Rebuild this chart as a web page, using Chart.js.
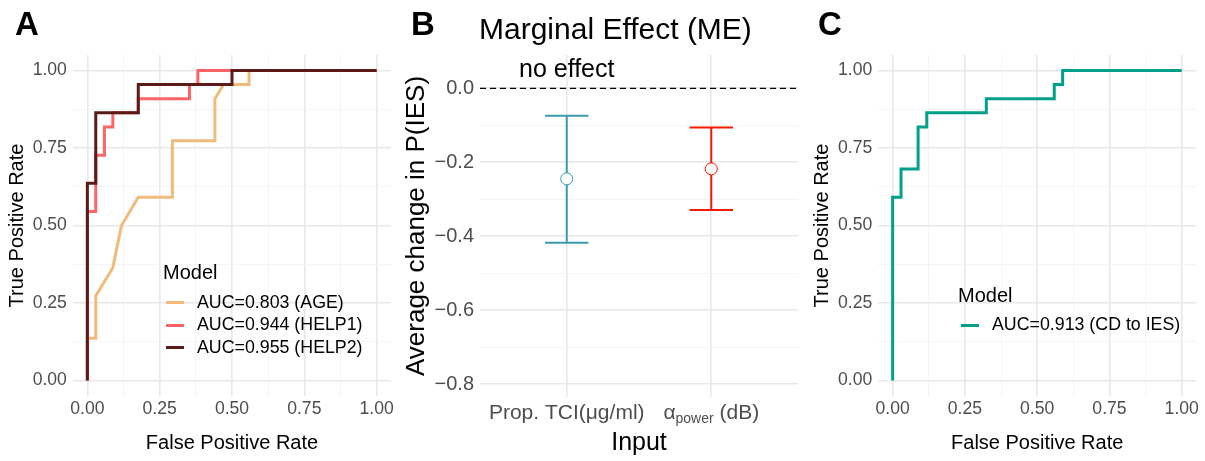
<!DOCTYPE html>
<html>
<head>
<meta charset="utf-8">
<script src="https://cdn.jsdelivr.net/npm/chart.js@4.4.0/dist/chart.umd.min.js"></script>
<style>
    body { margin: 0; background: #fff; font-family: "Liberation Sans", Arial, sans-serif; }
    #quadro { position: relative; width: 1205px; height: 461px; overflow: hidden; }
    .painel { position: absolute; top: 0; height: 461px; }
    .letra { position: absolute; top: 6.5px; font-size: 33px; font-weight: bold; line-height: 1; color: #000; }
    .titulo { position: absolute; font-size: 30px; line-height: 1; color: #000; }
    .legenda { position: absolute; color: #000; }
    .legenda .nome { font-size: 20px; line-height: 1; margin-bottom: 9px; }
    .legenda .linha { display: flex; align-items: center; height: 22.5px; font-size: 17.8px; line-height: 1; white-space: nowrap; }
    .legenda .traco { width: 18px; height: 3px; margin-right: 13px; }
</style>
</head>
<body>
<div id="quadro">
    <div class="painel" style="left:0;width:400px"><canvas id="graficoA"></canvas></div>
    <div class="painel" style="left:400px;width:405px"><canvas id="graficoB"></canvas></div>
    <div class="painel" style="left:805px;width:400px"><canvas id="graficoC"></canvas></div>

    <div class="letra" style="left:15px">A</div>
    <div class="letra" style="left:411px">B</div>
    <div class="letra" style="left:818px">C</div>
    <div class="titulo" style="left:479px;top:14px">Marginal Effect (ME)</div>

    <div class="legenda" id="legendaA" style="left:163px;top:262.4px"></div>
    <div class="legenda" id="legendaC" style="left:958px;top:284.8px"></div>
</div>

<script>
// curvas ROC do painel A (taxa de falso positivo, taxa de verdadeiro positivo)
const ageFpr = [0, 0, 0.029, 0.029, 0.088, 0.118, 0.176, 0.294, 0.294, 0.441, 0.441, 0.471, 0.559, 0.559, 1];
const ageTpr = [0, 0.136, 0.136, 0.273, 0.364, 0.5, 0.591, 0.591, 0.773, 0.773, 0.909, 0.955, 0.955, 1, 1];
const help1Fpr = [0, 0, 0.029, 0.029, 0.059, 0.059, 0.088, 0.088, 0.176, 0.176, 0.353, 0.353, 0.382, 0.382, 1];
const help1Tpr = [0, 0.545, 0.545, 0.727, 0.727, 0.818, 0.818, 0.864, 0.864, 0.909, 0.909, 0.955, 0.955, 1, 1];
const help2Fpr = [0, 0, 0.029, 0.029, 0.176, 0.176, 0.5, 0.5, 1];
const help2Tpr = [0, 0.636, 0.636, 0.864, 0.864, 0.955, 0.955, 1, 1];
const modelosA = ["AUC=0.803 (AGE)", "AUC=0.944 (HELP1)", "AUC=0.955 (HELP2)"];

// curva ROC do painel C
const cdFpr = [0, 0, 0.029, 0.029, 0.088, 0.088, 0.118, 0.118, 0.324, 0.324, 0.559, 0.559, 0.588, 0.588, 1];
const cdTpr = [0, 0.591, 0.591, 0.682, 0.682, 0.818, 0.818, 0.864, 0.864, 0.909, 0.909, 0.955, 0.955, 1, 1];
const modelosC = ["AUC=0.913 (CD to IES)"];

// efeito marginal do painel B
const entradas = ["Prop. TCI(μg/ml)", "α_power (dB)"];
const efeitoMedio = [-0.245, -0.218];
const efeitoInferior = [-0.418, -0.329];
const efeitoSuperior = [-0.074, -0.106];
const linhaZero = 0;
const notaTexto = "no effect";
const notaX = 1;
const notaY = 0.05;

// marcas dos eixos
const rocTicks = [0, 0.25, 0.5, 0.75, 1];
const rocMenores = [0.125, 0.375, 0.625, 0.875];
const meTicks = [-0.8, -0.6, -0.4, -0.2, 0];
const meMenores = [-0.7, -0.5, -0.3, -0.1];

const fonte = '"Liberation Sans", Arial, sans-serif';
Chart.defaults.font.family = fonte;
Chart.defaults.animation = false;

const coresA = ["#F1BB7B", "#FD6467", "#5B1A18"];
const corC = "#00A08A";
const coresB = ["#3B9AB2", "#F21A00"];

function pontos(xs, ys) {
    return xs.map((x, i) => ({ x: x, y: ys[i] }));
}

function grade(maiores) {
    return {
        drawTicks: false,
        color: (c) => maiores.includes(c.tick.value) ? "#e8e8e8" : "#f3f3f3",
        lineWidth: (c) => maiores.includes(c.tick.value) ? 1.6 : 0.9
    };
}

function escalaRoc(horizontal, titulo, largura) {
    return {
        type: "linear",
        min: -0.05,
        max: 1.05,
        afterBuildTicks: (s) => {
            s.ticks = rocTicks.concat(rocMenores).sort((a, b) => a - b).map((v) => ({ value: v }));
        },
        afterFit: (s) => {
            if (horizontal) s.height = 65; else s.width = largura;
        },
        grid: grade(rocTicks),
        border: { display: false },
        ticks: {
            autoSkip: false,
            maxRotation: 0,
            padding: horizontal ? 3 : 6,
            color: "#4d4d4d",
            font: { size: 17.6 },
            callback: (v) => rocTicks.includes(v) ? v.toFixed(2) : ""
        },
        title: {
            display: true,
            text: titulo,
            color: "#000",
            font: { size: 20 },
            padding: horizontal ? { top: 0, bottom: 6 } : { top: 5, bottom: 0 }
        }
    };
}

function montarRoc(id, series, largura, direita) {
    new Chart(document.getElementById(id), {
        type: "line",
        data: {
            datasets: series.map((s) => ({
                label: s.nome,
                data: pontos(s.fpr, s.tpr),
                borderColor: s.cor,
                borderWidth: 3,
                pointRadius: 0,
                tension: 0,
                fill: false,
                order: s.ordem
            }))
        },
        options: {
            responsive: true,
            maintainAspectRatio: false,
            layout: { padding: { top: 55, right: direita, left: 0, bottom: 0 } },
            plugins: { legend: { display: false }, tooltip: { enabled: false } },
            scales: {
                x: escalaRoc(true, "False Positive Rate", largura),
                y: escalaRoc(false, "True Positive Rate", largura)
            }
        }
    });
}

function montarLegenda(id, nomes, cores) {
    const box = document.getElementById(id);
    let html = '<div class="nome">Model</div>';
    nomes.forEach((n, i) => {
        html += `<div class="linha"><span class="traco" style="background:${cores[i]};margin-left:3px"></span>${n}</div>`;
    });
    box.innerHTML = html;
}

// rotulos do eixo x do painel B, com subscrito onde tem "_"
const textosME = {
    id: "textosME",
    afterDraw(chart) {
        const { ctx, chartArea } = chart;
        const x = chart.scales.x;
        const y = chart.scales.y;
        ctx.save();
        ctx.fillStyle = "#000";
        ctx.font = "25px " + fonte;
        ctx.textAlign = "center";
        ctx.textBaseline = "middle";
        ctx.fillText(notaTexto, x.getPixelForValue(notaX), y.getPixelForValue(notaY));

        ctx.fillStyle = "#4d4d4d";
        ctx.textAlign = "left";
        ctx.textBaseline = "alphabetic";
        const base = chartArea.bottom + 22;
        entradas.forEach((rotulo, i) => {
            const partes = rotulo.split(/_(\w+)/).map((t, k) => ({ t: t, sub: k % 2 === 1 })).filter((p) => p.t);
            let total = 0;
            partes.forEach((p) => {
                ctx.font = (p.sub ? "14px " : "21px ") + fonte;
                p.w = ctx.measureText(p.t).width;
                total += p.w;
            });
            let px = x.getPixelForValue(i + 1) - total / 2;
            partes.forEach((p) => {
                ctx.font = (p.sub ? "14px " : "21px ") + fonte;
                ctx.fillText(p.t, px, p.sub ? base + 4 : base);
                px += p.w;
            });
        });
        ctx.restore();
    }
};

function montarEfeito() {
    const conjuntos = [];
    conjuntos.push({
        data: [{ x: 0.4, y: linhaZero }, { x: 2.6, y: linhaZero }],
        borderColor: "#000",
        borderWidth: 1.3,
        borderDash: [6, 4],
        pointRadius: 0,
        order: 5
    });
    entradas.forEach((e, i) => {
        const cx = i + 1;
        const segs = [
            [{ x: cx, y: efeitoInferior[i] }, { x: cx, y: efeitoSuperior[i] }],
            [{ x: cx - 0.15, y: efeitoSuperior[i] }, { x: cx + 0.15, y: efeitoSuperior[i] }],
            [{ x: cx - 0.15, y: efeitoInferior[i] }, { x: cx + 0.15, y: efeitoInferior[i] }]
        ];
        segs.forEach((d) => {
            conjuntos.push({ data: d, borderColor: coresB[i], borderWidth: 2, pointRadius: 0, order: 3 });
        });
    });
    conjuntos.push({
        data: efeitoMedio.map((v, i) => ({ x: i + 1, y: v })),
        showLine: false,
        pointRadius: 6,
        pointBackgroundColor: "#fff",
        pointBorderColor: coresB,
        pointBorderWidth: 1,
        order: 1
    });

    new Chart(document.getElementById("graficoB"), {
        type: "line",
        data: { datasets: conjuntos },
        options: {
            responsive: true,
            maintainAspectRatio: false,
            layout: { padding: { top: 55, right: 5, left: 0, bottom: 0 } },
            plugins: { legend: { display: false }, tooltip: { enabled: false } },
            scales: {
                x: {
                    type: "linear",
                    min: 0.4,
                    max: 2.6,
                    afterBuildTicks: (s) => { s.ticks = [{ value: 1 }, { value: 2 }]; },
                    afterFit: (s) => { s.height = 64; },
                    grid: grade([1, 2]),
                    border: { display: false },
                    ticks: { display: false },
                    title: { display: true, text: "Input", color: "#000", font: { size: 25 }, padding: { top: 0, bottom: 3 } }
                },
                y: {
                    type: "linear",
                    min: -0.835,
                    max: 0.09,
                    afterBuildTicks: (s) => {
                        s.ticks = meTicks.concat(meMenores).sort((a, b) => a - b).map((v) => ({ value: v }));
                    },
                    afterFit: (s) => { s.width = 80; },
                    grid: grade(meTicks),
                    border: { display: false },
                    ticks: {
                        autoSkip: false,
                        padding: 6,
                        color: "#4d4d4d",
                        font: { size: 20 },
                        callback: (v) => {
                            if (!meTicks.includes(v)) return "";
                            return v === 0 ? "0.0" : "\u2212" + Math.abs(v).toFixed(1);
                        }
                    },
                    title: { display: true, text: "Average change in P(IES)", color: "#000", font: { size: 26 }, padding: { top: 1, bottom: 0 } }
                }
            }
        },
        plugins: [textosME]
    });
}

document.addEventListener("DOMContentLoaded", function () {
    montarRoc("graficoA", [
        { nome: modelosA[0], fpr: ageFpr, tpr: ageTpr, cor: coresA[0], ordem: 3 },
        { nome: modelosA[1], fpr: help1Fpr, tpr: help1Tpr, cor: coresA[1], ordem: 2 },
        { nome: modelosA[2], fpr: help2Fpr, tpr: help2Tpr, cor: coresA[2], ordem: 1 }
    ], 72.9, 8.9);
    montarEfeito();
    montarRoc("graficoC", [
        { nome: modelosC[0], fpr: cdFpr, tpr: cdTpr, cor: corC, ordem: 1 }
    ], 73.2, 8.8);

    montarLegenda("legendaA", modelosA, coresA);
    montarLegenda("legendaC", modelosC, [corC]);
});
</script>
</body>
</html>
